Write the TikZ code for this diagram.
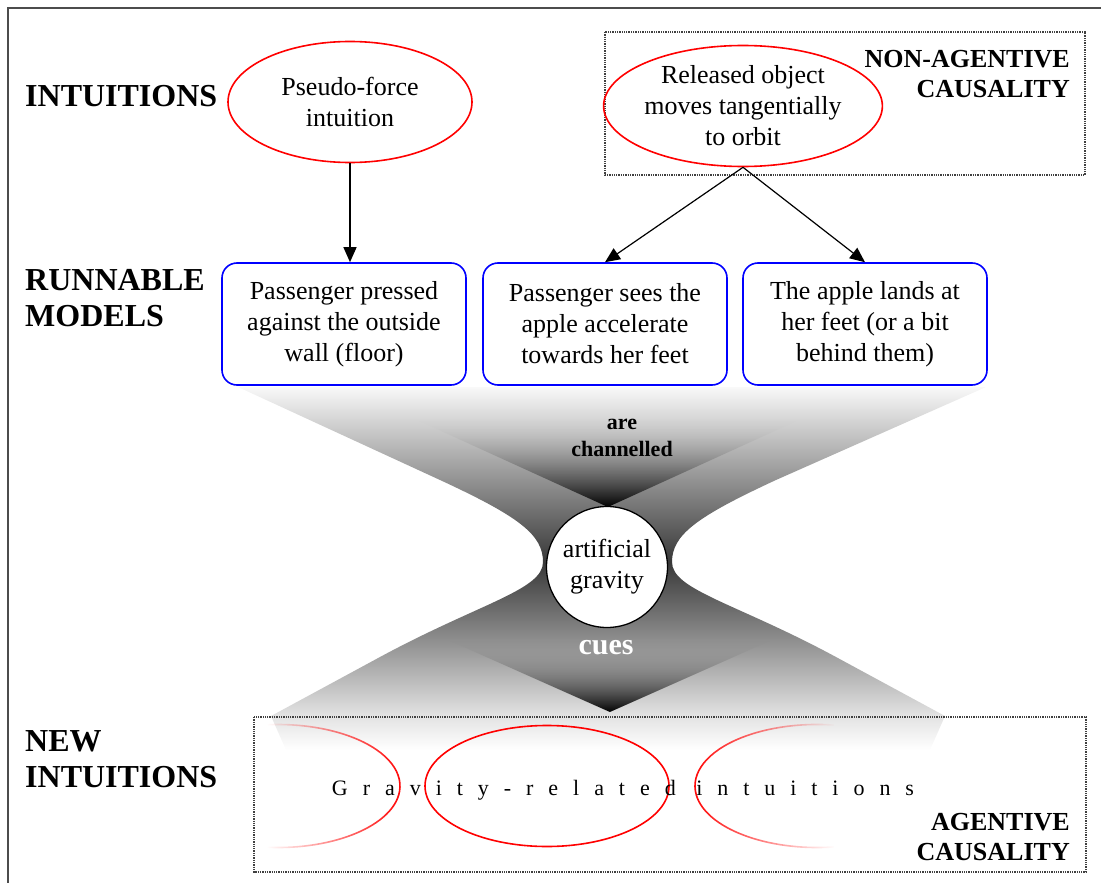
\documentclass[tikz,border=0pt]{standalone}
\usepackage{fontspec}
\setmainfont{Liberation Serif}
\usetikzlibrary{positioning}
\usetikzlibrary{shapes.geometric}
\usetikzlibrary{arrows.meta}
\usetikzlibrary{fadings}

\tikzfading[name=fadewest, left color=transparent!100, middle color=transparent!0, right color=transparent!0]
\tikzfading[name=fadeeast, left color=transparent!0, middle color=transparent!0, right color=transparent!100]

\begin{document}
\begin{tikzpicture}[x=1pt, y=-1pt,
			intuition/.style={draw=red, line width=1.6pt, ellipse, minimum width=244pt, minimum height=121pt, inner sep=0pt, align=center, font=\fontsize{26}{31}\selectfont},
			model/.style={draw=blue, line width=1.6pt, rectangle, rounded corners=15pt, minimum width=244pt, minimum height=122pt, fill=white, align=center, font=\fontsize{26}{31}\selectfont},
			level/.style={anchor=west, inner sep=0pt, align=left, font=\fontsize{32}{36}\selectfont\bfseries},
			causal/.style={anchor=east, inner sep=0pt, align=right, font=\fontsize{26}{30}\selectfont\bfseries},
			group/.style={densely dotted, line width=1.3pt, draw=black!75},
			partial/.style={draw=red, line width=1.6pt}]
			\useasboundingbox (0,0) rectangle (1101,883);
			\draw[line width=1.5pt, black!70] (8,883) -- (8,8) -- (1101,8);
			
			% funnel
			\shade[top color=gray!5, middle color=gray!35, bottom color=black!78] (238,387) -- (440,480) .. controls (520,517) and (543,535) .. (543,562) -- (672,562) .. controls (672,535) and (696,517) .. (776,480) -- (986,387) -- cycle;
			\shade[top color=black!78, bottom color=gray!22] (543,562) .. controls (543,590) and (480,603) .. (380,657) -- (271,716) -- (945,716) -- (836,657) .. controls (736,603) and (672,590) .. (672,562) -- cycle;
			\shade[top color=gray!40, bottom color=black, path fading=north] (417,420) -- (799,420) -- (608,507) -- cycle;
			\shade[top color=black!45, bottom color=black, path fading=north] (448,640) -- (772,640) -- (610,712) -- cycle;
			\shade[top color=gray!22, bottom color=white] (271,716) -- (945,716) -- (930,750) -- (286,750) -- cycle;
			
			\node[circle, draw, line width=1.3pt, fill=white, minimum size=121pt, inner sep=0pt, align=center, font=\fontsize{26}{31}\selectfont] (gravity) at (607,567) {artificial\\gravity};
			\node[align=center, font=\fontsize{22}{27}\selectfont\bfseries] (channel) at (622,438) {are\\channelled};
			\node[font=\fontsize{30}{30}\selectfont\bfseries, text=white] (cues) at (606,648) {cues};
			
			% levels
			\node[level] (intu) at (25,96) {INTUITIONS};
			\node[level] (runnable) at (25,298) {RUNNABLE\\MODELS};
			\node[level] (newintu) at (25,759) {NEW\\INTUITIONS};
			
			\draw[group] (605,32) rectangle (1085,175);
			\node[causal] (nonagent) at (1070,74) {NON-AGENTIVE\\CAUSALITY};
			
			\node[intuition] (pseudo) at (350,102) {Pseudo-force\\intuition};
			\node[intuition] (release) at (743,106) {Released object\\moves tangentially\\to orbit};
			
			\node[model] (pressed) at (344,324) {Passenger pressed\\against the outside\\wall (floor)};
			\node[model] (sees) at (605,324) {Passenger sees the\\apple accelerate\\towards her feet};
			\node[model] (lands) at (865,324) {The apple lands at\\her feet (or a bit\\behind them)};
			
			\draw[->, >={Triangle[length=15pt, width=13pt]}, line width=1.2pt] (pseudo.south) -- (pseudo.south |- pressed.north);
			\draw[->, >={Triangle[length=15pt, width=13pt]}, line width=1.2pt] (release.south) -- (sees.north);
			\draw[->, >={Triangle[length=15pt, width=13pt]}, line width=1.2pt] (release.south) -- (lands.north);
			
			% new intuitions
			\draw[group] (254,717) rectangle (1086,872);
			\coordinate (gravleft) at (278,786);
			\coordinate (gravright) at (817,786);
			\draw[partial, path fading=fadewest] ([shift={(95:122 and 61.5)}]gravleft) arc[start angle=95, end angle=-95, x radius=122, y radius=61.5];
			\node[intuition] (gravmid) at (547,786) {};
			\draw[partial, path fading=fadeeast] ([shift={(82:122 and 61.5)}]gravright) arc[start angle=82, end angle=278, x radius=122, y radius=61.5];
			\node[font=\fontsize{22}{22}\selectfont\addfontfeature{LetterSpace=68}] (gravtext) at (623,790) {Gravity-related intuitions};
			\node[causal] (agent) at (1070,837) {AGENTIVE\\CAUSALITY};
			\end{tikzpicture}
\end{document}
